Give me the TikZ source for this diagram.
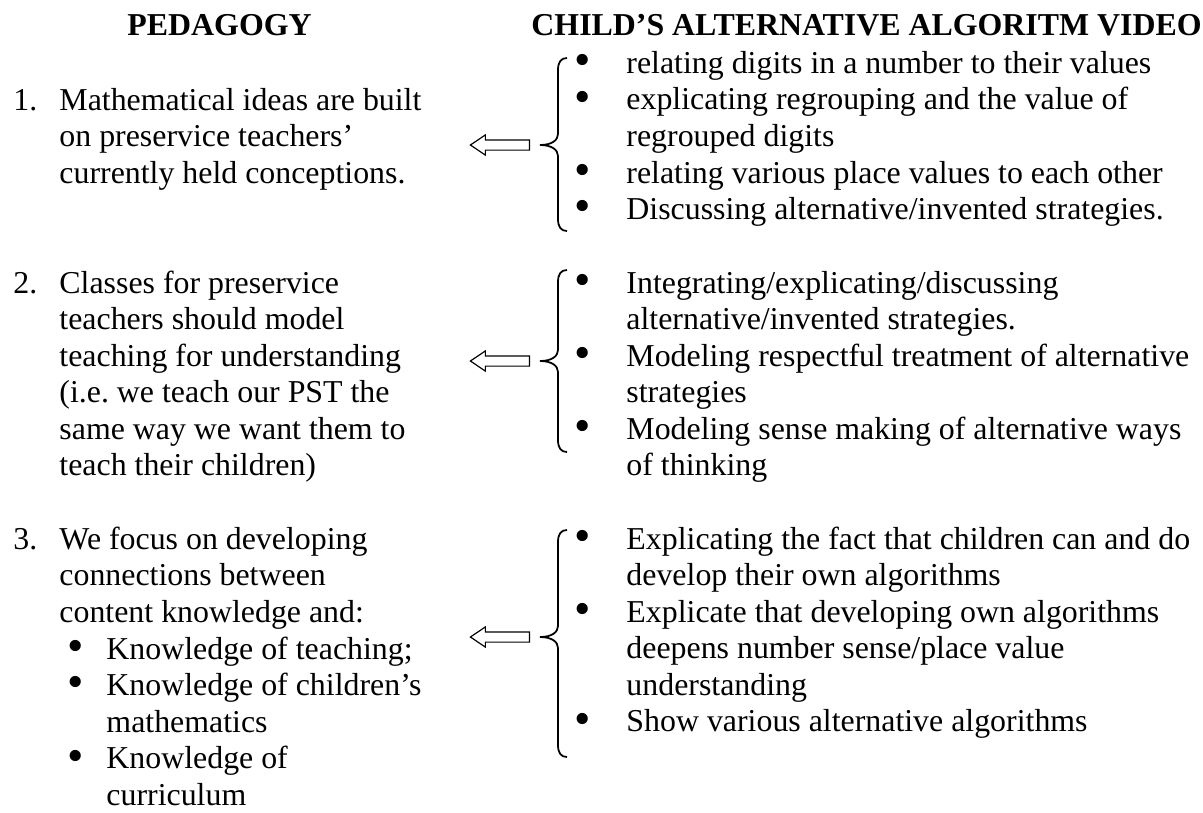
\documentclass[tikz,border=0pt]{standalone}
\usepackage{fontspec}
\setmainfont{Liberation Serif}
\usepackage{tikz}
\usetikzlibrary{positioning,shapes.arrows}
\frenchspacing

\newcommand{\itembul}{{\fontsize{20}{15.6}\selectfont\raisebox{-1pt}[0pt][0pt]{\textbullet}}}
\newcommand{\grpbrace}[3]{%
  \draw[bracestroke] (567,#1) .. controls (561,#1) and (558,{#1+4}) .. (558,{#1+12})
    -- (558,{#2-11}) .. controls (558,{#2-5}) and (552,#2) .. (540,#2)
    .. controls (552,#2) and (558,{#2+5}) .. (558,{#2+11})
    -- (558,{#3-12}) .. controls (558,{#3-4}) and (561,#3) .. (567,#3);}

\begin{document}
\begin{tikzpicture}[x=0.015cm,y=-0.015cm,
  txt/.style={anchor=base west,inner sep=0pt,font=\fontsize{13.6}{15.6}\selectfont},
  head/.style={txt,font=\fontsize{13.6}{15.6}\selectfont\bfseries},
  bracestroke/.style={line width=0.75pt},
  blockarrow/.style={draw,single arrow,shape border rotate=180,single arrow tip angle=68,
    single arrow head extend=0.075cm,minimum height=0.885cm,
    inner xsep=0pt,inner ysep=0.0675cm,line width=0.5pt}]
\useasboundingbox (0,0) rectangle (1203,812);

\node[head] (ped) at (127,35.5) {PEDAGOGY};
\node[head] (vid) at (531,35.5) {CHILD’S ALTERNATIVE ALGORITM VIDEO};

\node[txt] (n1) at (13,110) {1.};
\node[txt] (p1) at (59,110) {\begin{tabular}[t]{@{}l@{}}
Mathematical ideas are built\\
on preservice teachers’\\
currently held conceptions.
\end{tabular}};

\node[txt] (n2) at (13,293) {2.};
\node[txt] (p2) at (59,293) {\begin{tabular}[t]{@{}l@{}}
Classes for preservice\\
teachers should model\\
teaching for understanding\\
(i.e. we teach our PST the\\
same way we want them to\\
teach their children)
\end{tabular}};

\node[txt] (n3) at (13,549.2) {3.};
\node[txt] (p3) at (59,549.2) {\begin{tabular}[t]{@{}l@{}}
We focus on developing\\
connections between\\
content knowledge and:
\end{tabular}};
\node[txt] (s3) at (67,659) {\begin{tabular}[t]{@{}p{0.585cm}@{}l@{}}
\itembul & Knowledge of teaching;\\
\itembul & Knowledge of children’s\\
 & mathematics\\
\itembul & Knowledge of\\
 & curriculum
\end{tabular}};

\node[txt] (v1) at (574,73.4) {\begin{tabular}[t]{@{}p{0.78cm}@{}l@{}}
\itembul & relating digits in a number to their values\\
\itembul & explicating regrouping and the value of\\
 & regrouped digits\\
\itembul & relating various place values to each other\\
\itembul & Discussing alternative/invented strategies.
\end{tabular}};

\node[txt] (v2) at (574,293) {\begin{tabular}[t]{@{}p{0.78cm}@{}l@{}}
\itembul & Integrating/explicating/discussing\\
 & alternative/invented strategies.\\
\itembul & Modeling respectful treatment of alternative\\
 & strategies\\
\itembul & Modeling sense making of alternative ways\\
 & of thinking
\end{tabular}};

\node[txt] (v3) at (574,549.2) {\begin{tabular}[t]{@{}p{0.78cm}@{}l@{}}
\itembul & Explicating the fact that children can and do\\
 & develop their own algorithms\\
\itembul & Explicate that developing own algorithms\\
 & deepens number sense/place value\\
 & understanding\\
\itembul & Show various alternative algorithms
\end{tabular}};

\grpbrace{58}{145}{231}
\grpbrace{270}{361}{452}
\grpbrace{530}{637}{757}

\coordinate (t1) at (540,145);
\coordinate (t2) at (540,361);
\coordinate (t3) at (540,637);
\node[blockarrow,left=0.15cm of t1] (a1) {};
\node[blockarrow,left=0.15cm of t2] (a2) {};
\node[blockarrow,left=0.15cm of t3] (a3) {};
\end{tikzpicture}
\end{document}
